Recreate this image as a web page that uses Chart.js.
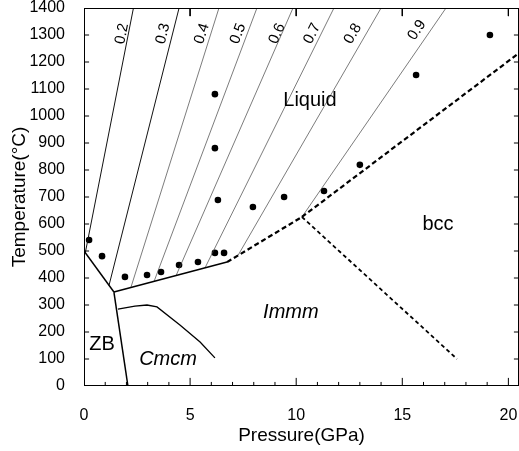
<!DOCTYPE html>
<html>
<head>
<meta charset="utf-8">
<script src="https://cdn.jsdelivr.net/npm/chart.js@4.4.1/dist/chart.umd.min.js"></script>
<style>
html,body{margin:0;padding:0;background:#fff;}
</style>
</head>
<body>
<canvas id="myChart" width="519" height="451"></canvas>
<script>
// measured points, pressure (GPa) / temperature (C)
var dotP = [0.24, 0.85, 1.93, 2.97, 3.63, 4.48, 5.37, 6.17, 6.6, 6.31, 6.17, 6.17, 7.96, 9.43, 11.31, 13.0, 15.65, 19.13]
var dotT = [541, 481, 404, 411, 422, 448, 459, 493, 493, 689, 881, 1081, 663, 700, 722, 819, 1152, 1300]

// solid phase boundaries
var zbLiqP = [0, 1.41]
var zbLiqT = [500, 348]
var zbCmcmP = [1.41, 2.07]
var zbCmcmT = [348, 0]
var cmcmLiqP = [1.41, 6.74]
var cmcmLiqT = [348, 459]
var cmcmImmmP = [1.6, 2.4, 2.97, 3.44, 4.52, 5.47, 6.17]
var cmcmImmmT = [285, 296, 300, 293, 226, 163, 104]

// dashed phase boundaries
var immmLiqP = [6.74, 10.27]
var immmLiqT = [459, 626]
var bccLiqP = [10.27, 20.5]
var bccLiqT = [626, 1233]
var immmBccP = [10.27, 17.58]
var immmBccT = [626, 100]

// fraction lines (top end at 1400 C)
var fracLabels = ['0.2', '0.3', '0.4', '0.5', '0.6', '0.7', '0.8', '0.9']
var fracTopP = [2.33, 4.48, 6.36, 8.15, 9.85, 11.78, 14.0, 17.06]
var fracEndP = [0.06, 1.18, 2.21, 3.30, 4.34, 5.70, 7.26, 10.27]
var fracEndT = [493, 373, 365, 387, 409, 437, 484, 626]
var fracLabelP = [1.79, 3.72, 5.56, 7.26, 9.1, 10.75, 12.67, 15.69]
var fracLabelT = [1305, 1305, 1305, 1305, 1305, 1305, 1305, 1318]

// phase names
var regionNames = ['Liquid', 'bcc', 'Immm', 'ZB', 'Cmcm']
var regionP = [10.65, 16.68, 9.75, 0.85, 3.96]
var regionT = [1059, 600, 274, 152, 100]

var xTicks = [0, 5, 10, 15, 20]
var xMax = 20.5
var yMax = 1400

const FONT = 'Arial, "Liberation Sans", sans-serif'

const pts = (p, t) => p.map((v, i) => ({x: v, y: t[i]}))

var datasets = []
const addLine = (p, t, w, dash, color) => {
  datasets.push({
    data: pts(p, t), showLine: true, pointRadius: 0, borderColor: color || '#000',
    borderWidth: w, borderDash: dash || [], fill: false, tension: 0, spanGaps: false
  })
}

// plot frame along the axis limits
addLine([0, 0, xMax, xMax, 0], [0, yMax, yMax, 0, 0], 2)

// inward tick marks (length in axis units, about 5 / 8 / 4 px)
var tickP = [], tickT = []
for (let v = 100; v < yMax; v += 100) {
  tickP.push(0, 0.24, null, xMax - 0.24, xMax, null)
  tickT.push(v, v, null, v, v, null)
}
for (let v = 1; v < 21; v++) {
  const len = v % 5 === 0 ? 30 : 15
  tickP.push(v, v, null)
  tickT.push(0, len, null)
  if (v % 5 === 0) { tickP.push(v, v, null); tickT.push(yMax, yMax - len, null) }
}
addLine(tickP, tickT, 1)

addLine(zbLiqP, zbLiqT, 1.5)
addLine(zbCmcmP, zbCmcmT, 1.5)
addLine(cmcmLiqP, cmcmLiqT, 1.5)
addLine(cmcmImmmP, cmcmImmmT, 1.3)
addLine(immmLiqP, immmLiqT, 2.2, [5, 3])
addLine(bccLiqP, bccLiqT, 2.2, [5, 3])
addLine(immmBccP, immmBccT, 1.8, [4, 3])
for (let i = 0; i < fracLabels.length; i++) {
  addLine([fracEndP[i], fracTopP[i]], [fracEndT[i], yMax], i < 2 ? 1 : 0.7, [], i < 2 ? '#111' : '#444')
}
datasets.push({
  data: pts(dotP, dotT), pointRadius: 3.3, pointBackgroundColor: '#000',
  pointBorderColor: '#000', borderWidth: 0, showLine: false
})

// rotated fraction labels and phase names
const decor = {
  id: 'decor',
  afterDraw(chart) {
    const ctx = chart.ctx
    const xs = chart.scales.x
    const ys = chart.scales.y
    ctx.save()
    ctx.fillStyle = '#000'
    ctx.textAlign = 'center'
    ctx.textBaseline = 'middle'
    ctx.font = '15px ' + FONT
    for (let i = 0; i < fracLabels.length; i++) {
      const x0 = xs.getPixelForValue(fracEndP[i]), y0 = ys.getPixelForValue(fracEndT[i])
      const x1 = xs.getPixelForValue(fracTopP[i]), y1 = ys.getPixelForValue(yMax)
      ctx.save()
      ctx.translate(xs.getPixelForValue(fracLabelP[i]), ys.getPixelForValue(fracLabelT[i]))
      ctx.rotate(Math.atan2(y1 - y0, x1 - x0))
      ctx.fillText(fracLabels[i], 0, 0)
      ctx.restore()
    }
    for (let i = 0; i < regionNames.length; i++) {
      const it = regionNames[i] === 'Immm' || regionNames[i] === 'Cmcm'
      ctx.font = (it ? 'italic ' : '') + '20px ' + FONT
      ctx.fillText(regionNames[i], xs.getPixelForValue(regionP[i]), ys.getPixelForValue(regionT[i]))
    }
    ctx.restore()
  }
}

myLineChart = new Chart('myChart', {
  type: 'scatter',
  data: {datasets: datasets},
  options: {
    responsive: false,
    animation: false,
    events: [],
    layout: {padding: 0, autoPadding: false},
    plugins: {legend: {display: false}, tooltip: {enabled: false}},
    scales: {
      x: {
        type: 'linear', min: 0, max: xMax,
        afterBuildTicks: s => { s.ticks = xTicks.map(v => ({value: v})) },
        ticks: {color: '#000', font: {size: 16, family: FONT, lineHeight: 1}, padding: 14, maxRotation: 0,
          callback: v => String(v)},
        grid: {display: false},
        border: {display: false},
        title: {display: true, text: 'Pressure(GPa)', color: '#000', font: {size: 19, family: FONT}, padding: 4},
        afterFit: s => { s.height = 65; s.paddingLeft = 0; s.paddingRight = 0 }
      },
      y: {
        type: 'linear', min: 0, max: yMax,
        ticks: {stepSize: 100, color: '#000', font: {size: 16, family: FONT, lineHeight: 1}, padding: 11,
          callback: v => String(v)},
        grid: {display: false},
        border: {display: false},
        title: {display: true, text: 'Temperature(°C)', color: '#000', font: {size: 19, family: FONT}, padding: 8},
        afterFit: s => { s.width = 84; s.paddingTop = 8; s.paddingBottom = 0 }
      }
    }
  },
  plugins: [decor]
})
</script>
</body>
</html>
